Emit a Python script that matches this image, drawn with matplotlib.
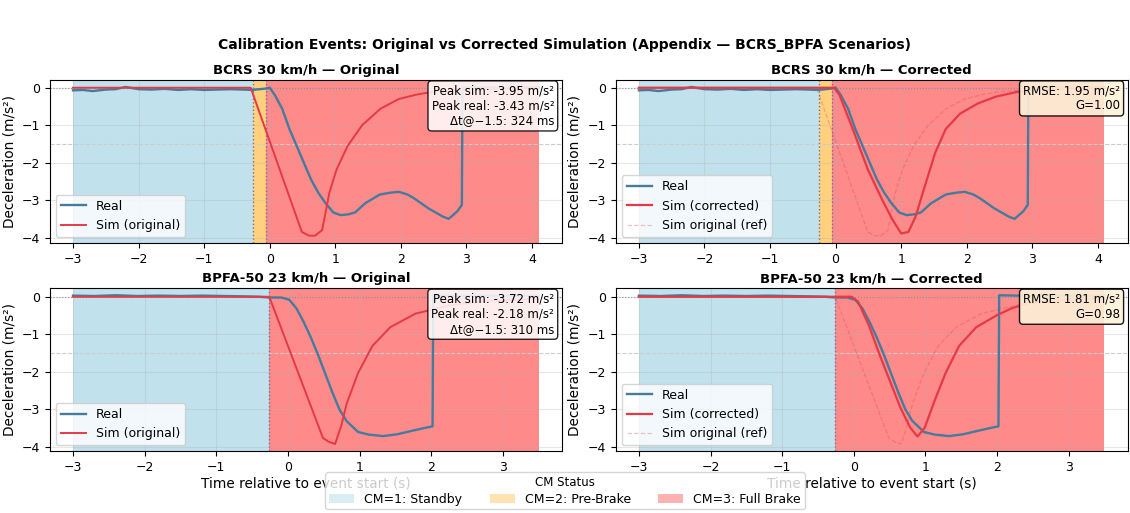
import numpy as np
import matplotlib
matplotlib.use("Agg")
import matplotlib.pyplot as plt
from matplotlib.patches import Patch

plt.rcParams['font.family'] = ['DejaVu Sans']

C_REAL = '#457b9d'
C_SIM = '#e63946'

# ---- BCRS 30 km/h ----
bcrs_t_real = [-3.0, -2.85, -2.7, -2.5, -2.35, -2.2, -2.0, -1.8, -1.6, -1.4, -1.2, -1.0,
               -0.8, -0.6, -0.4, -0.27, -0.15, -0.05, 0.0, 0.08, 0.19, 0.3, 0.41, 0.52,
               0.63, 0.74, 0.85, 0.97, 1.08, 1.2, 1.3, 1.46, 1.68, 1.85, 1.97, 2.1, 2.2,
               2.42, 2.64, 2.73, 2.86, 2.93, 2.94, 3.2, 3.6, 4.1]
bcrs_real = [-0.07, -0.06, -0.09, -0.05, -0.04, 0.02, -0.04, -0.05, -0.03, -0.06, -0.04, -0.06,
             -0.05, -0.04, -0.05, -0.06, -0.04, -0.02, 0.0, -0.2, -0.56, -1.1, -1.55, -2.0,
             -2.45, -2.8, -3.08, -3.33, -3.4, -3.38, -3.33, -3.08, -2.85, -2.8, -2.78, -2.85, -2.95,
             -3.22, -3.44, -3.5, -3.3, -3.13, 0.0, 0.01, 0.0, 0.01]
bcrs_t_orig = [-3.0, -0.29, 0.49, 0.6, 0.69, 0.8, 0.91, 1.02, 1.19, 1.41, 1.69, 1.97,
               2.25, 2.52, 3.0, 3.5, 4.1]
bcrs_orig = [0.0, 0.0, -3.85, -3.95, -3.95, -3.8, -2.8, -2.18, -1.55, -1.0, -0.56, -0.3,
             -0.18, -0.1, -0.05, -0.03, -0.01]
bcrs_t_corr = [-3.0, -0.02, 0.06, 0.28, 0.49, 0.71, 0.87, 1.0, 1.11, 1.22, 1.36, 1.52,
               1.68, 1.9, 2.17, 2.44, 2.77, 3.2, 3.6, 4.1]
bcrs_corr = [0.0, 0.0, -0.2, -1.19, -2.18, -2.99, -3.53, -3.89, -3.85, -3.44, -2.63, -1.73,
             -1.1, -0.69, -0.42, -0.24, -0.11, -0.05, -0.02, -0.01]
# CM phase boundaries: standby start, pre-brake start, full-brake start, end
bcrs_cm = [-3.0, -0.26, -0.06, 4.1]

# ---- BPFA-50 23 km/h ----
bpfa_t_real = [-3.0, -2.7, -2.4, -2.1, -1.8, -1.5, -1.2, -0.9, -0.6, -0.4, -0.26, -0.09,
               0.02, 0.12, 0.22, 0.32, 0.42, 0.52, 0.62, 0.72, 0.82, 0.98, 1.13, 1.33,
               1.53, 1.73, 1.94, 2.02, 2.03, 2.3, 2.8, 3.5]
bpfa_real = [0.03, 0.02, 0.04, 0.02, 0.03, 0.02, 0.03, 0.02, 0.01, 0.0, -0.02, -0.02,
             -0.08, -0.31, -0.67, -1.08, -1.54, -2.04, -2.54, -3.0, -3.31, -3.6, -3.67, -3.71,
             -3.66, -3.57, -3.48, -3.45, 0.04, 0.03, 0.03, 0.03]
bpfa_t_orig = [-3.0, -0.26, 0.49, 0.57, 0.66, 0.75, 0.82, 0.98, 1.18, 1.43, 1.78, 2.28,
               2.79, 3.5]
bpfa_orig = [0.0, 0.0, -3.76, -3.86, -3.92, -3.4, -2.85, -2.03, -1.31, -0.81, -0.45, -0.22,
             -0.11, -0.05]
bpfa_t_corr = [-3.0, -0.03, 0.06, 0.21, 0.35, 0.5, 0.65, 0.79, 0.89, 0.99, 1.13, 1.28,
               1.47, 1.71, 2.0, 2.2, 2.44, 3.0, 3.5]
bpfa_corr = [0.0, 0.0, -0.13, -0.76, -1.49, -2.22, -2.95, -3.49, -3.72, -3.49, -2.76, -2.04,
             -1.31, -0.81, -0.49, -0.31, -0.17, -0.07, -0.04]
bpfa_cm = [-3.0, -0.26, -0.26, 3.5]

orig_boxes = ["Peak sim: -3.95 m/s²\nPeak real: -3.43 m/s²\nΔt@−1.5: 324 ms",
              "Peak sim: -3.72 m/s²\nPeak real: -2.18 m/s²\nΔt@−1.5: 310 ms"]
corr_boxes = ["RMSE: 1.95 m/s²\nG=1.00", "RMSE: 1.81 m/s²\nG=0.98"]
titles = ["BCRS 30 km/h", "BPFA-50 23 km/h"]

cm_colors = ['lightblue', 'orange', 'red']
cm_alpha = [0.75, 0.5, 0.46]
cm_labels = ['CM=1: Standby', 'CM=2: Pre-Brake', 'CM=3: Full Brake']


def shade_cm(ax, bounds):
    # one thin span per 20 ms sample, like the logged CM signal
    for k in range(3):
        a, b = bounds[k], bounds[k + 1]
        if b - a <= 0:
            continue
        edges = np.append(np.arange(a, b, 0.02), b)
        for x0, x1 in zip(edges[:-1], edges[1:]):
            ax.axvspan(x0, x1, color=cm_colors[k], alpha=cm_alpha[k], lw=0, zorder=0)
    for x in sorted(set(bounds[1:3])):
        ax.axvline(x, color='#7070a8', ls=':', lw=1, zorder=1)


def decorate(ax, title):
    ax.axhline(0, color='gray', ls=':', lw=0.8, zorder=1)
    ax.axhline(-1.5, color='#cccccc', ls='--', lw=0.8, zorder=1)
    ax.grid(True, alpha=0.3)
    ax.set_title(title, fontsize=9.5, fontweight='bold', pad=4)
    ax.set_ylabel('Deceleration (m/s²)', fontsize=9.8)
    ax.tick_params(labelsize=9)


fig, axes = plt.subplots(2, 2, figsize=(11.3, 5.13), dpi=100)
fig.subplots_adjust(left=0.044, right=0.998, top=0.845, bottom=0.12, wspace=0.105, hspace=0.273)

events = [
    (bcrs_cm, bcrs_t_real, bcrs_real, bcrs_t_orig, bcrs_orig, bcrs_t_corr, bcrs_corr),
    (bpfa_cm, bpfa_t_real, bpfa_real, bpfa_t_orig, bpfa_orig, bpfa_t_corr, bpfa_corr),
]

for i, (cm, tr, yr, to, yo, tc, yc) in enumerate(events):
    ax = axes[i, 0]
    shade_cm(ax, cm)
    ax.plot(tr, yr, color=C_REAL, lw=1.7, label='Real', zorder=3)
    ax.plot(to, yo, color=C_SIM, lw=1.4, label='Sim (original)', zorder=3)
    decorate(ax, titles[i] + ' — Original')
    ax.legend(loc='lower left', fontsize=9, framealpha=0.8)
    ax.text(0.985, 0.97, orig_boxes[i], transform=ax.transAxes, ha='right', va='top',
            fontsize=8.5, zorder=5,
            bbox=dict(boxstyle='round', facecolor='white', alpha=0.85))

    ax = axes[i, 1]
    shade_cm(ax, cm)
    ax.plot(tr, yr, color=C_REAL, lw=1.7, label='Real', zorder=3)
    ax.plot(tc, yc, color=C_SIM, lw=1.6, label='Sim (corrected)', zorder=4)
    ax.plot(to, yo, color=C_SIM, lw=0.9, ls='--', alpha=0.3, label='Sim original (ref)', zorder=2)
    decorate(ax, titles[i] + ' — Corrected')
    ax.legend(loc='lower left', fontsize=9, framealpha=0.8)
    ax.text(0.985, 0.97, corr_boxes[i], transform=ax.transAxes, ha='right', va='top',
            fontsize=8.5, zorder=5,
            bbox=dict(boxstyle='round', facecolor='#fdf1d8', alpha=0.9))

for ax in axes[1]:
    ax.set_xlabel('Time relative to event start (s)', fontsize=9.8, labelpad=2)

handles = [Patch(facecolor=c, alpha=a, label=l)
           for c, a, l in zip(cm_colors, [0.45, 0.3, 0.3], cm_labels)]
fig.legend(handles=handles, loc='lower center', ncol=3, fontsize=9, title='CM Status',
           title_fontsize=8.5, bbox_to_anchor=(0.5, -0.005), framealpha=0.8,
           columnspacing=2.2, borderpad=0.3, labelspacing=0.3)

fig.suptitle('Calibration Events: Original vs Corrected Simulation (Appendix — BCRS_BPFA Scenarios)',
             fontsize=10, fontweight='bold', y=0.925)

fig.savefig('out.png', dpi=100)
